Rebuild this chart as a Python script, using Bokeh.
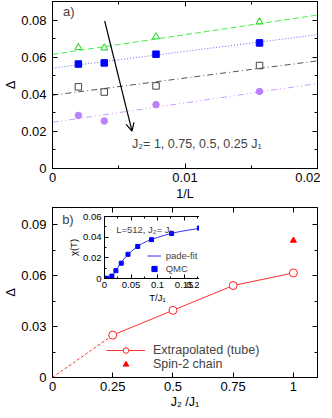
from bokeh.plotting import figure
from bokeh.models import (LinearAxis, FixedTicker, CustomJSTickFormatter, Label,
                          Arrow, OpenHead, Legend, LegendItem)
from bokeh.layouts import column
from bokeh.embed import file_html
from bokeh.resources import INLINE

FONT = "Liberation Sans"

# ---------------- data ----------------
inv_L = [1 / 512, 1 / 256, 1 / 128, 1 / 64]
gap_J2_100 = [0.0652, 0.0650, 0.0710, 0.0790]
gap_J2_075 = [0.0563, 0.0569, 0.0616, 0.0677]
gap_J2_050 = [0.0440, 0.0412, 0.0445, 0.0555]
gap_J2_025 = [0.0286, 0.0256, 0.0344, 0.0415]

J2_ratio = [0.25, 0.5, 0.75, 1.0]
gap_extrap = [0.0249, 0.0395, 0.0541, 0.0615]   # intercepts of the 1/L fits
fit_slope = [1.045, 0.925, 0.90, 1.06]          # slopes of the 1/L fits (J2 = 0.25 .. 1)

J2_chain = [1.0]
gap_chain = [0.0806]

T_qmc = [0.002, 0.0044, 0.0139, 0.0215, 0.0316, 0.0443, 0.0627, 0.0886, 0.1266, 0.179]
chi_qmc = [0.0, 0.0003, 0.0023, 0.0076, 0.0148, 0.0234, 0.0310, 0.0376, 0.0435, 0.0488]
T_fit = [0.0, 0.005, 0.01, 0.015, 0.02, 0.025, 0.03, 0.04, 0.05, 0.06, 0.07, 0.08,
         0.09, 0.1, 0.12, 0.14, 0.16, 0.18, 0.2]
chi_fit = [0.0, 0.0001, 0.0008, 0.003, 0.0065, 0.0105, 0.0145, 0.021, 0.026, 0.0302,
           0.0335, 0.036, 0.038, 0.0398, 0.0428, 0.0452, 0.047, 0.0485, 0.0497]

xticks_a = [0, 0.01, 0.02]
xminor_a = [0.005, 0.015]
yticks_a = [0, 0.02, 0.04, 0.06, 0.08]
yminor_a = [0.01, 0.03, 0.05, 0.07, 0.09]
xticks_b = [0, 0.25, 0.5, 0.75, 1]
yticks_b = [0, 0.03, 0.06, 0.09]
yminor_b = [0.015, 0.045, 0.075]
xticks_i = [0, 0.05, 0.1, 0.15, 0.2]
xminor_i = [0.025, 0.075, 0.125, 0.175]
yticks_i = [0, 0.02, 0.04, 0.06]
yminor_i = [0.01, 0.03, 0.05]

fmt_code = "return String(Number(tick.toFixed(4)));"


def style(ax, fs, tick_in=5, minor_in=3, label=True):
    ax.major_tick_in = tick_in
    ax.major_tick_out = 0
    ax.minor_tick_in = minor_in
    ax.minor_tick_out = 0
    ax.axis_line_color = "black"
    ax.major_tick_line_color = "black"
    ax.minor_tick_line_color = "black"
    ax.major_label_text_font = FONT
    ax.major_label_text_font_size = fs if label else "0px"
    ax.major_label_text_color = "black"
    ax.axis_label_text_font = FONT
    ax.axis_label_text_font_style = "normal"
    ax.axis_label_text_color = "black"
    if not label:
        ax.major_label_standoff = 0


def make_axes(p, xt, xm, yt, ym, fs, tick_in=5, minor_in=3):
    xtk = FixedTicker(ticks=xt, minor_ticks=xm)
    ytk = FixedTicker(ticks=yt, minor_ticks=ym)
    xa = p.below[0]
    ya = p.left[0]
    xa.ticker = xtk
    ya.ticker = ytk
    xa.formatter = CustomJSTickFormatter(code=fmt_code)
    ya.formatter = CustomJSTickFormatter(code=fmt_code)
    style(xa, fs, tick_in, minor_in)
    style(ya, fs, tick_in, minor_in)
    top = LinearAxis(ticker=xtk)
    right = LinearAxis(ticker=ytk)
    style(top, fs, tick_in, minor_in, label=False)
    style(right, fs, tick_in, minor_in, label=False)
    p.add_layout(top, "above")
    p.add_layout(right, "right")
    return xa, ya


def base_fig(fw, fh, xr, yr, **kw):
    p = figure(frame_width=fw, frame_height=fh, x_range=xr, y_range=yr,
               output_backend="svg", toolbar_location=None, **kw)
    p.grid.visible = False
    p.outline_line_color = "black"
    p.background_fill_color = "white"
    return p


# ---------------- panel a ----------------
p1 = base_fig(265, 167, (0, 0.02), (0, 0.09), min_border_left=47, min_border_right=3,
              min_border_top=1, min_border_bottom=36)
xa1, ya1 = make_axes(p1, xticks_a, xminor_a, yticks_a, yminor_a, "13px")
xa1.axis_label = "1/L"
ya1.axis_label = "Δ"
xa1.axis_label_text_font_size = "12.5px"
ya1.axis_label_text_font_size = "13px"
ya1.major_label_standoff = 6
ya1.axis_label_standoff = 0
xa1.axis_label_standoff = 2
xa1.major_label_standoff = 4

series = [
    (gap_J2_100, 3, "#33dd33", "#44ee44", "6 3", "triangle"),
    (gap_J2_075, 2, "#0000ff", "#6666ff", "1 2", "square"),
    (gap_J2_050, 1, "#444444", "#555555", "6 3 1 3", "square_open"),
    (gap_J2_025, 0, "#bb80ff", "#cc99ff", "6 3 1 3 1 3", "circle"),
]
for vals, idx, col, lc, dash, mk in series:
    xs = [0, 0.02]
    ys = [gap_extrap[idx] + fit_slope[idx] * x for x in xs]
    p1.line(xs, ys, line_color=lc, line_dash=dash, line_width=1)
    if mk == "triangle":
        p1.scatter(inv_L, vals, marker="triangle", size=7, fill_color=None,
                   line_color=col, line_width=1.1)
    elif mk == "square":
        p1.scatter(inv_L, vals, marker="square", size=6.5, fill_color=col, line_color=col)
    elif mk == "square_open":
        p1.scatter(inv_L, vals, marker="square", size=6.5, fill_color=None,
                   line_color=col, line_width=1)
    else:
        p1.scatter(inv_L, vals, marker="circle", size=6.5, fill_color=col, line_color=col)

p1.add_layout(Arrow(end=OpenHead(size=8, line_width=1.2), x_start=0.00394, y_start=0.0795,
                    x_end=0.006, y_end=0.0201, line_width=1.2, line_color="black"))
p1.add_layout(Label(x=0.006, y=0.0132, text="J₂= 1, 0.75, 0.5, 0.25 J₁",
                    text_font=FONT, text_font_size="12.5px", text_baseline="middle"))
p1.add_layout(Label(x=0.0008, y=0.0845, text="a)", text_font=FONT,
                    text_font_size="13px", text_baseline="middle"))

# ---------------- panel b ----------------
p2 = base_fig(265, 170, (0, 1.1), (0, 0.1), min_border_left=47, min_border_right=3,
              min_border_top=3, min_border_bottom=33)
xa2, ya2 = make_axes(p2, xticks_b, [], yticks_b, yminor_b, "13px")
xa2.axis_label = "J₂ /J₁"
ya2.axis_label = "Δ"
xa2.axis_label_text_font_size = "12.5px"
ya2.axis_label_text_font_size = "13px"
ya2.major_label_standoff = 6
ya2.axis_label_standoff = 0
xa2.axis_label_standoff = 1
xa2.major_label_standoff = 4

p2.line([0, J2_ratio[0]], [0, gap_extrap[0]], line_color="#ff3030", line_dash="3 2",
        line_width=1)
ext_line = p2.line(J2_ratio, gap_extrap, line_color="#ff3030", line_width=1)
ext_pts = p2.scatter(J2_ratio, gap_extrap, marker="circle", size=8, fill_color="white",
                     line_color="#ff2020", line_width=1)
chain_pts = p2.scatter(J2_chain, gap_chain, marker="triangle", size=6, fill_color="#ff0000",
                       line_color="#ff0000")

p2.add_layout(Label(x=0.04, y=0.093, text="b)", text_font=FONT, text_font_size="13px",
                    text_baseline="middle"))

leg = Legend(items=[LegendItem(label="Extrapolated (tube)", renderers=[ext_line, ext_pts]),
                    LegendItem(label="Spin-2 chain", renderers=[chain_pts])],
             location=(54, 6), padding=0, margin=0, spacing=0, glyph_height=14,
             label_height=14, glyph_width=39, label_standoff=8,
             label_text_font=FONT, label_text_font_size="12.5px",
             border_line_color=None, background_fill_alpha=0)
p2.add_layout(leg)

# ---------------- inset ----------------
inset = base_fig(106, 62, (0, 0.2), (0, 0.06), min_border_left=36, min_border_right=2,
                 min_border_top=7, min_border_bottom=24,
                 styles={"position": "absolute", "left": "52px", "top": "209px"})
inset.border_fill_color = None
xai, yai = make_axes(inset, xticks_i, xminor_i, yticks_i, yminor_i, "9.5px",
                     tick_in=4, minor_in=2)
xai.axis_label = "T/J₁"
yai.axis_label = "χ(T)"
xai.axis_label_text_font_size = "9.5px"
yai.axis_label_text_font_size = "9.5px"
xai.major_label_standoff = 3
yai.major_label_standoff = 3
xai.axis_label_standoff = 1
yai.axis_label_standoff = 1

fit_r = inset.line(T_fit, chi_fit, line_color="#3333ff", line_width=1)
qmc_r = inset.scatter(T_qmc, chi_qmc, marker="square", size=4, fill_color="#0000ff",
                      line_color="#0000ff")
inset.add_layout(Label(x=0.022, y=0.047, text="L=512, J₂= J₁", text_font=FONT,
                       text_font_size="9.5px", text_baseline="middle"))
ileg = Legend(items=[LegendItem(label="pade-fit", renderers=[fit_r]),
                     LegendItem(label="QMC", renderers=[qmc_r])],
              location=(55, 3), padding=0, margin=0, spacing=0, glyph_height=13,
              label_height=13, glyph_width=14, label_standoff=5,
              label_text_font=FONT, label_text_font_size="9.5px",
              border_line_color=None, background_fill_alpha=0)
inset.add_layout(ileg)

layout = column(p1, p2, inset)
open("out.html", "w").write(file_html(layout, INLINE))
